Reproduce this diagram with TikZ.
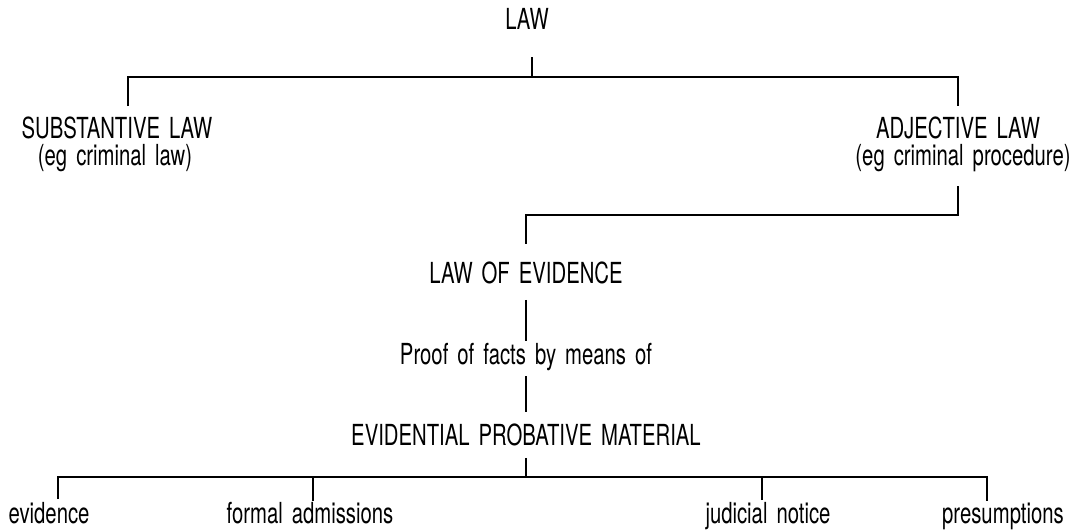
\documentclass[tikz,border=0pt]{standalone}
\usepackage{fontspec}
\setmainfont{TeX Gyre Heros}[FakeStretch=0.7, WordSpace=1.6]
\usetikzlibrary{positioning}
\begin{document}
\begin{tikzpicture}
    [x=0.02cm, y=-0.02cm, line/.style={draw=black, line width=0.6pt}]
    % Define styles for the terms and the joints
    \tikzstyle{term} = [inner sep=0pt, anchor=base, font=\fontsize{16.5}{20}\selectfont]
    \tikzstyle{joint} = [coordinate]

    \useasboundingbox (0,0) rectangle (1079,529);

    % Nodes placement
    \node [term] (law) at (527,29) {LAW};
    \node [term] (substantive) at (117,138) {SUBSTANTIVE LAW};
    \node [term] (substantiveeg) at (115,165) {(eg criminal law)};
    \node [term] (adjective) at (958,138) {ADJECTIVE LAW};
    \node [term] (adjectiveeg) at (963,165) {(eg criminal procedure)};
    \node [term] (lawofevidence) at (526,283) {LAW OF EVIDENCE};
    \node [term] (proof) at (526,364) {Proof of facts by means of};
    \node [term] (evidential) at (526,445) {EVIDENTIAL PROBATIVE MATERIAL};
    \node [term] (evidence) at (49,523) {evidence};
    \node [term] (formal) at (310,523) {formal admissions};
    \node [term] (judicial) at (768,523) {judicial notice};
    \node [term] (presumptions) at (1003,523) {presumptions};

    % Joints of the connectors
    \node [joint] (lawbus) at (532,77) {};
    \node [joint] (substantivetop) at (128,106) {};
    \node [joint] (adjectivetop) at (958,106) {};
    \node [joint] (adjectivebottom) at (958,186) {};
    \node [joint] (evidencetop) at (526,244) {};
    \node [joint] (evbus) at (526,477) {};
    \node [joint] (evidenceend) at (58,499) {};
    \node [joint] (formalend) at (313,501) {};
    \node [joint] (judicialend) at (762,500) {};
    \node [joint] (presumptionsend) at (987,501) {};

    % Draw edges
    \draw[line] (lawbus |- law.south) ++(0,28) -- (lawbus);
    \draw[line] (substantivetop) |- (lawbus) -| (adjectivetop);
    \draw[line] (adjectivebottom) -- ++(0,29) -| (evidencetop);
    \draw[line] (lawofevidence.south) ++(0,16) -- ++(0,41);
    \draw[line] (proof.base) ++(0,12) -- ++(0,36);
    \draw[line] (evidential.south) ++(0,12) -- (evbus);
    \draw[line] (evidenceend) |- (evbus) -| (presumptionsend);
    \draw[line] (formalend) -- (formalend |- evbus);
    \draw[line] (judicialend) -- (judicialend |- evbus);
\end{tikzpicture}
\end{document}
